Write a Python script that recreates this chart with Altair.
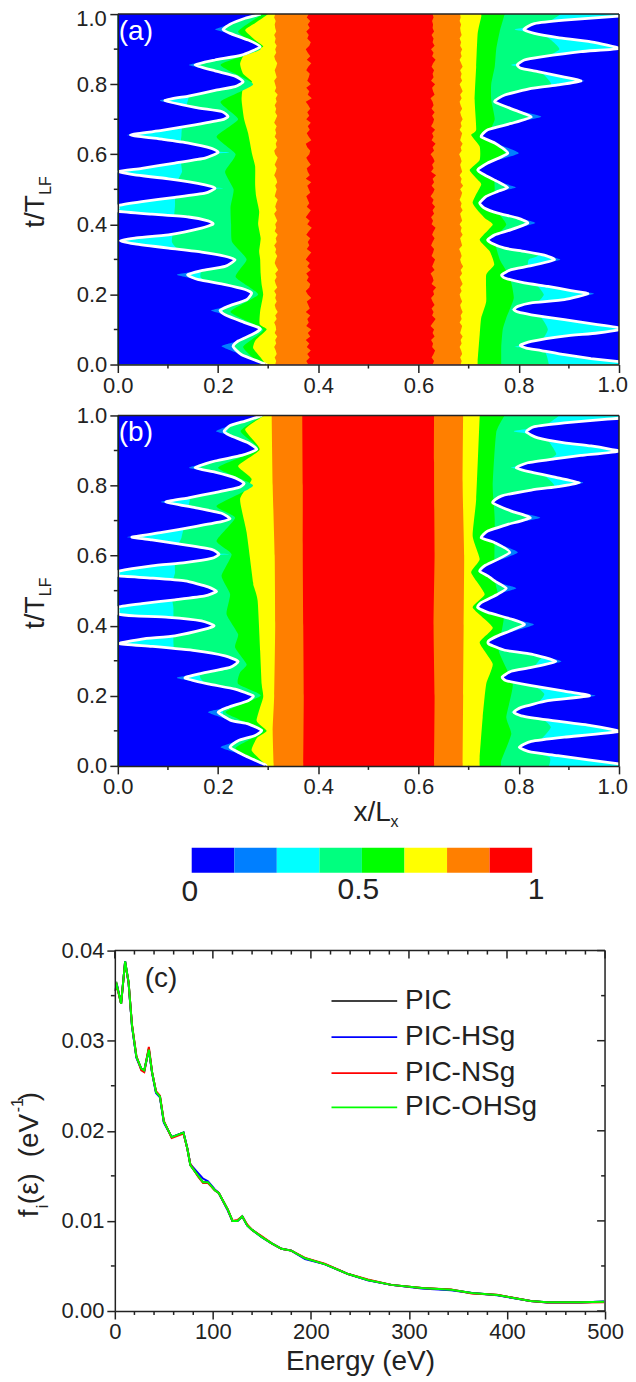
import altair as alt
import pandas as pd

FONT = "Liberation Sans"
BLUE, AZURE, CYAN, SPRING, GREEN, YELLOW, ORANGE, RED = "#0000ff", "#007fff", "#00ffff", "#00ff7f", "#00ff00", "#ffff00", "#ff7f00", "#ff0000"
BAR_COLORS = [BLUE, AZURE, CYAN, SPRING, GREEN, YELLOW, ORANGE, RED]
INK = "#222222"

# ---------- panel (a) contour boundaries: (t, x) ----------
A_L_WHITE = [(0,.296),(.002,.293),(.028,.247),(.052,.230),(.067,.240),(.085,.267),(.100,.284),(.106,.280),(.123,.247),(.142,.214),(.154,.204),(.166,.220),(.185,.257),(.204,.267),(.214,.254),(.228,.214),(.242,.161),(.256,.139),(.268,.167),(.280,.214),(.299,.234),(.309,.214),(.321,.167),(.332,.101),(.344,.034),(.353,.005),(.361,.034),(.370,.101),(.389,.167),(.401,.190),(.410,.180),(.421,.141),(.429,.068),(.437,.002),(.446,.001),(.454,.002),(.465,.048),(.477,.114),(.489,.174),(.503,.194),(.513,.174),(.530,.101),(.541,.034),(.551,.002),(.560,.048),(.575,.114),(.589,.174),(.605,.200),(.617,.187),(.632,.141),(.643,.088),(.655,.025),(.668,.088),(.684,.154),(.698,.207),(.708,.220),(.722,.207),(.734,.154),(.753,.094),(.766,.141),(.782,.194),(.793,.234),(.807,.250),(.823,.234),(.838,.194),(.855,.154),(.869,.194),(.883,.247),(.907,.284),(.926,.260),(.945,.224),(.956,.210),(.971,.224),(.988,.254),(.997,.277),(1,.285)]
A_L_TIPS = {.052:.207,.154:.186,.256:.118,.655:.018,.753:.084,.855:.142,.956:.194}
A_R_WHITE = [(0,1.05),(.008,1.0),(.017,.944),(.028,.891),(.040,.845),(.047,.815),(.055,.803),(.066,.825),(.081,.891),(.090,.957),(.102,1.01),(.114,.957),(.128,.891),(.142,.825),(.150,.798),(.157,.790),(.166,.798),(.176,.825),(.185,.891),(.202,.938),(.211,.904),(.223,.858),(.233,.811),(.247,.772),(.256,.766),(.271,.785),(.282,.825),(.299,.871),(.312,.851),(.323,.811),(.332,.772),(.347,.745),(.356,.738),(.370,.752),(.385,.785),(.404,.818),(.418,.798),(.432,.758),(.446,.732),(.461,.722),(.480,.735),(.494,.758),(.505,.778),(.522,.758),(.541,.732),(.555,.718),(.575,.738),(.603,.778),(.632,.752),(.650,.725),(.670,.738),(.688,.785),(.707,.825),(.726,.792),(.750,.752),(.769,.772),(.788,.825),(.798,.878),(.809,.924),(.820,.891),(.836,.838),(.845,.805),(.855,.797),(.869,.811),(.878,.845),(.893,.924),(.902,1.0),(.921,.944),(.933,.878),(.945,.831),(.956,.810),(.973,.831),(.983,.891),(.994,1.0),(1,1.05)]
A_R_TIPS = {.202:.950,.299:.883,.404:.833,.505:.795,.603:.800,.707:.845,.809:.932}
A_L_CS = [(0,.2),(.1,.2),(.15,.21),(.2,.2),(.25,.165),(.3,.17),(.33,.12),(.35,.108),(.38,.11),(.45,.114),(.495,.12),(.503,.21),(.512,.12),(.55,.128),(.595,.13),(.605,.224),(.615,.13),(.655,.127),(.7,.13),(.755,.14),(.8,.15),(.855,.165),(.9,.2),(.956,.215),(1,.225)]
A_L_SG = [(0,.285),(.05,.25),(.1,.29),(.15,.225),(.2,.28),(.25,.235),(.3,.257),(.35,.228),(.4,.226),(.45,.225),(.5,.231),(.55,.214),(.6,.235),(.65,.197),(.7,.24),(.75,.205),(.8,.27),(.855,.205),(.9,.285),(.95,.24),(1,.29)]
A_L_GY = [(0,.295),(.02,.285),(.047,.27),(.07,.275),(.1,.297),(.115,.283),(.152,.284),(.2,.29),(.228,.287),(.26,.285),(.3,.284),(.323,.282),(.36,.285),(.4,.28),(.437,.282),(.48,.276),(.513,.274),(.565,.274),(.6,.268),(.66,.26),(.7,.252),(.755,.247),(.79,.25),(.807,.268),(.83,.25),(.859,.244),(.89,.255),(.907,.29),(.925,.275),(.954,.254),(.975,.275),(1,.3)]
A_R_CS = [(0,.86),(.04,.85),(.051,.792),(.06,.84),(.1,.858),(.14,.84),(.157,.785),(.17,.83),(.2,.85),(.24,.825),(.256,.775),(.27,.815),(.3,.82),(.34,.85),(.75,.85),(.78,.84),(.8,.865),(.84,.84),(.855,.785),(.87,.84),(.9,.881),(.94,.85),(.956,.792),(.97,.85),(1,.884)]
A_R_SG = [(0,.765),(.05,.765),(.1,.768),(.133,.775),(.19,.79),(.25,.782),(.3,.762),(.36,.752),(.4,.775),(.45,.75),(.5,.752),(.55,.752),(.6,.775),(.65,.74),(.7,.752),(.755,.745),(.8,.745),(.85,.752),(.9,.755),(.95,.762),(1,.772)]
A_R_GY = [(0,.718),(.01,.718),(.085,.722),(.133,.725),(.18,.735),(.256,.735),(.285,.751),(.323,.742),(.356,.722),(.399,.748),(.418,.732),(.461,.708),(.513,.725),(.527,.718),(.555,.702),(.584,.722),(.622,.722),(.655,.705),(.67,.715),(.755,.712),(.85,.715),(.945,.718),(.992,.725),(1,.725)]
T_GRID = [i / 100 for i in range(101)]
A_L_RO = [.380,.376,.383,.378,.385,.377,.382,.375,.384,.379,.386,.376,.381,.378,.384,.375,.383,.380,.377,.386,.379,.375,.382,.384,.377,.381,.376,.385,.378,.383,.375,.380,.386,.377,.382,.379,.384,.376,.381,.387,.378,.383,.375,.380,.385,.377,.382,.379,.376,.384,.381,.378,.386,.375,.383,.379,.377,.385,.380,.376,.382,.384,.378,.375,.386,.381,.377,.383,.379,.385,.376,.382,.378,.384,.380,.375,.387,.379,.382,.376,.385,.378,.381,.383,.376,.380,.386,.377,.384,.379,.375,.382,.385,.378,.381,.376,.383,.379,.384,.377,.381]
A_L_OY = [.314,.316,.313,.317,.315,.312,.316,.314,.318,.313,.316,.315,.312,.317,.314,.319,.315,.313,.317,.314,.316,.312,.318,.315,.313,.317,.314,.320,.316,.313,.315,.318,.314,.316,.312,.317,.315,.319,.313,.316,.314,.318,.315,.312,.317,.314,.316,.319,.313,.315,.317,.314,.318,.316,.312,.315,.317,.313,.316,.319,.314,.312,.317,.315,.318,.313,.316,.314,.317,.312,.315,.318,.314,.316,.313,.317,.315,.319,.313,.316,.314,.312,.317,.315,.313,.316,.318,.314,.312,.316,.314,.317,.313,.315,.312,.316,.314,.313,.315,.312,.314]
A_R_RO = [.628,.631,.626,.630,.633,.627,.629,.625,.632,.628,.631,.624,.629,.634,.627,.630,.626,.632,.628,.625,.631,.629,.635,.626,.630,.628,.624,.632,.627,.630,.633,.626,.629,.631,.625,.628,.632,.627,.630,.634,.626,.629,.625,.631,.628,.633,.627,.630,.624,.629,.632,.626,.631,.628,.635,.625,.630,.627,.632,.629,.624,.631,.628,.634,.626,.630,.627,.633,.625,.629,.631,.627,.632,.626,.630,.628,.624,.632,.629,.627,.633,.625,.630,.628,.631,.626,.629,.634,.627,.630,.625,.632,.628,.630,.626,.631,.628,.629,.627,.630,.628]
A_R_OY = [.684,.686,.683,.687,.685,.682,.686,.684,.688,.683,.685,.687,.682,.686,.684,.688,.685,.683,.687,.684,.682,.686,.683,.688,.685,.682,.687,.684,.689,.685,.683,.686,.684,.681,.687,.685,.683,.688,.684,.686,.682,.687,.685,.683,.688,.684,.686,.682,.685,.687,.683,.689,.684,.686,.682,.687,.685,.683,.686,.684,.681,.686,.684,.688,.683,.685,.687,.682,.686,.684,.688,.685,.683,.687,.684,.682,.686,.683,.688,.685,.682,.687,.684,.686,.683,.688,.685,.682,.686,.684,.687,.683,.685,.682,.686,.684,.683,.685,.682,.684,.683]

# ---------- panel (b) contour boundaries: (t, x) ----------
B_L_WHITE = [(0,.296),(.004,.293),(.029,.254),(.053,.224),(.072,.240),(.086,.273),(.101,.287),(.120,.260),(.129,.227),(.153,.200),(.167,.220),(.186,.260),(.200,.270),(.219,.234),(.234,.180),(.251,.134),(.264,.167),(.281,.224),(.298,.240),(.314,.214),(.329,.154),(.341,.068),(.349,.003),(.362,.048),(.371,.114),(.390,.174),(.400,.192),(.414,.167),(.424,.101),(.428,.034),(.433,.002),(.444,.001),(.454,.002),(.463,.048),(.474,.114),(.485,.174),(.498,.197),(.511,.180),(.528,.134),(.536,.068),(.542,.002),(.549,.001),(.556,.002),(.571,.068),(.580,.134),(.592,.187),(.604,.202),(.618,.187),(.632,.127),(.645,.068),(.653,.028),(.666,.088),(.683,.154),(.697,.207),(.705,.224),(.721,.207),(.737,.154),(.753,.096),(.765,.141),(.780,.194),(.794,.240),(.806,.252),(.822,.234),(.838,.194),(.851,.154),(.870,.194),(.886,.247),(.903,.277),(.922,.260),(.943,.224),(.955,.212),(.971,.224),(.984,.254),(.996,.280),(1,.288)]
B_L_TIPS = {.053:.205,.153:.180,.251:.118,.653:.018,.753:.086,.851:.142,.955:.196}
B_R_WHITE = [(0,1.05),(.006,1.0),(.029,.878),(.039,.825),(.053,.801),(.070,.825),(.082,.891),(.098,1.0),(.115,.944),(.131,.858),(.143,.805),(.153,.790),(.167,.805),(.186,.858),(.200,.941),(.213,.891),(.229,.825),(.243,.775),(.254,.767),(.270,.785),(.281,.825),(.298,.874),(.319,.825),(.330,.772),(.348,.740),(.357,.740),(.371,.758),(.403,.811),(.419,.785),(.438,.738),(.452,.718),(.466,.725),(.490,.758),(.507,.775),(.525,.755),(.542,.738),(.556,.722),(.571,.732),(.609,.782),(.637,.752),(.651,.725),(.670,.738),(.689,.778),(.708,.823),(.727,.785),(.751,.748),(.770,.765),(.787,.825),(.797,.878),(.808,.921),(.822,.878),(.838,.825),(.851,.795),(.865,.818),(.876,.871),(.886,.924),(.898,1.0),(.913,.944),(.922,.891),(.936,.838),(.953,.815),(.968,.831),(.979,.891),(.989,.971),(.992,1.0),(1,1.05)]
B_R_TIPS = {.200:.953,.298:.885,.403:.830,.507:.795,.609:.798,.708:.843,.808:.930}
B_L_CS = [(0,.2),(.1,.2),(.15,.21),(.2,.2),(.25,.165),(.3,.16),(.33,.115),(.35,.111),(.4,.111),(.45,.111),(.495,.112),(.503,.205),(.512,.112),(.55,.114),(.595,.12),(.604,.222),(.613,.12),(.651,.127),(.7,.135),(.761,.144),(.8,.15),(.851,.165),(.9,.2),(.955,.218),(1,.225)]
B_L_SG = [(0,.285),(.05,.235),(.1,.29),(.153,.215),(.2,.285),(.234,.24),(.267,.244),(.29,.257),(.338,.234),(.376,.24),(.433,.217),(.49,.224),(.542,.207),(.604,.227),(.642,.197),(.708,.234),(.742,.197),(.8,.27),(.851,.2),(.903,.28),(.955,.245),(1,.29)]
B_L_GY = [(0,.293),(.006,.293),(.044,.267),(.08,.278),(.1,.297),(.129,.277),(.196,.29),(.234,.287),(.328,.284),(.471,.279),(.5185,.27),(.523,.27),(.666,.257),(.761,.244),(.818,.267),(.856,.24),(.903,.283),(.96,.254),(.998,.29),(1,.293)]
B_L_RO = [(0,.370),(.2,.371),(.4,.370),(.6,.369),(.8,.369),(1,.368)]
B_L_OY = [(0,.311),(.1,.309),(.2,.312),(.4,.314),(.6,.313),(.8,.309),(1,.307)]
B_R_CS = [(0,.86),(.025,.861),(.05,.8),(.07,.84),(.11,.864),(.14,.84),(.153,.785),(.17,.83),(.205,.851),(.24,.82),(.254,.775),(.27,.82),(.3,.84),(.34,.85),(.75,.85),(.78,.84),(.8,.871),(.84,.84),(.851,.785),(.87,.85),(.89,.875),(.94,.85),(.955,.79),(.97,.85),(1,.881)]
B_R_SG = [(0,.765),(.015,.765),(.091,.785),(.139,.775),(.234,.788),(.329,.76),(.424,.77),(.533,.752),(.704,.752),(.799,.748),(.951,.755),(1,.772)]
B_R_GY = [(0,.722),(.025,.722),(.139,.728),(.234,.735),(.291,.748),(.352,.722),(.395,.748),(.452,.708),(.49,.732),(.552,.705),(.59,.722),(.656,.708),(.761,.715),(.998,.722),(1,.722)]
B_R_RO = [(0,.631),(.2,.632),(.4,.630),(.6,.632),(.8,.631),(1,.631)]
B_R_OY = [(0,.688),(.2,.689),(.4,.690),(.6,.691),(.8,.688),(1,.689)]

# ---------- panel (c) ----------
ENERGY = [0,2,6.4,10.5,14,17.5,22,27,30,34.7,38,42,46,50,58,70,74,77,85,90,95,102,106,115,120,125,130,135,140,150,160,170,180,194,214,238,258,282,313,343,364,390,424,441,475,499]
F_PIC = [.0355,.0362,.0341,.0388,.0365,.0317,.0282,.0269,.0267,.0291,.0265,.0243,.0238,.0210,.0193,.0198,.0180,.0162,.0150,.0143,.0143,.0134,.0131,.0113,.0100,.0100,.0105,.0095,.0090,.0082,.0075,.0069,.0067,.00585,.0052,.0041,.00345,.0029,.00256,.00237,.0020,.00178,.0011,.00096,.00096,.00102]
F_HS = [.0355,.0363,.0341,.0388,.0364,.0316,.0281,.0268,.0266,.0290,.0264,.0242,.0237,.0209,.0193,.0198,.0180,.0163,.0153,.0147,.0144,.0135,.0131,.0112,.0100,.0100,.0105,.0095,.0090,.0082,.0075,.0069,.0067,.00575,.0052,.0041,.0034,.0029,.0025,.0023,.0020,.00175,.0011,.00095,.00095,.00105]
F_NS = [.0355,.0361,.0341,.0387,.0365,.0318,.0283,.0267,.0265,.0293,.0265,.0244,.0239,.0211,.0192,.0197,.0180,.0163,.0149,.0142,.0142,.0134,.0131,.0113,.0100,.0101,.0105,.0096,.0090,.0083,.0075,.0069,.0067,.0059,.00525,.0041,.0035,.0029,.00255,.0024,.00195,.0018,.0011,.00095,.00095,.00098]
F_OH = [.0355,.0362,.0341,.0388,.0365,.0317,.0282,.0269,.0267,.0290,.0265,.0243,.0238,.0210,.0193,.0198,.0180,.0162,.0150,.0143,.0143,.0134,.0131,.0113,.0100,.0100,.0105,.0095,.0090,.0082,.0075,.0069,.0067,.00585,.0052,.0041,.00345,.0029,.00256,.00237,.0020,.00178,.0011,.00096,.00096,.00102]
LEGEND_NAMES = ["PIC", "PIC-HSg", "PIC-NSg", "PIC-OHSg"]
LEGEND_F = [.0344, .0304, .0264, .0226]
LINE_COLORS = ["#000000", "#0000ff", "#ff0000", "#00ff00"]

MAJOR_01 = [0, .2, .4, .6, .8, 1]
MINOR_01 = [.1, .3, .5, .7, .9]
E_MAJOR = [0, 100, 200, 300, 400, 500]
E_MINOR = [20,40,60,80,120,140,160,180,220,240,260,280,320,340,360,380,420,440,460,480]
F_MAJOR = [0, .01, .02, .03, .04]
F_MINOR = [.005, .015, .025, .035]
BLANK_ONE = "datum.value == 1 ? '' : format(datum.value, '.1f')"

AX = dict(title=None, zindex=1, labelFont=FONT, labelFontSize=22, labelColor=INK, tickColor=INK,
          domainColor=INK, tickWidth=1.5, domainWidth=1.5, grid=False, labelPadding=3, tickSize=8,
          labelFlush=False, labelOverlap=False)


def txt(s, x, y, size, color=INK, angle=0, align="left"):
    return alt.Chart(pd.DataFrame({"s": [s]})).mark_text(
        font=FONT, fontSize=size, color=color, angle=angle, align=align, baseline="alphabetic"
    ).encode(text="s:N", x=alt.value(x), y=alt.value(y))


def hrule(rows, xs, ys, color=INK, width=1.5):
    return alt.Chart(pd.DataFrame(rows, columns=["a", "b", "y"])).mark_rule(color=color, strokeWidth=width).encode(
        x=alt.X("a:Q", scale=xs), x2="b:Q", y=alt.Y("y:Q", scale=ys))


def vrule(rows, xs, ys, color=INK, width=1.5):
    return alt.Chart(pd.DataFrame(rows, columns=["x", "c", "d"])).mark_rule(color=color, strokeWidth=width).encode(
        x=alt.X("x:Q", scale=xs), y=alt.Y("c:Q", scale=ys), y2="d:Q")


def panel(L, R, tipsL, tipsR, label, is_bottom):
    xs = alt.Scale(domain=[0, 1], range=[3, 505], nice=False)
    ys = alt.Scale(domain=[0, 1], nice=False)

    def area(pairs, color, left, rough):
        df = pd.DataFrame(pairs, columns=["t", "b"])
        df["e"] = 0.0 if left else 1.0
        style = dict(interpolate="linear") if rough else dict(interpolate="cardinal", tension=.5)
        return alt.Chart(df).mark_area(orient="horizontal", clip=True, color=color, opacity=1, **style).encode(
            x=alt.X("b:Q", scale=xs), x2="e:Q", y=alt.Y("t:Q", scale=ys))

    def white(pairs):
        df = pd.DataFrame(pairs, columns=["t", "b"])
        df["i"] = range(len(df))
        return alt.Chart(df).mark_line(clip=True, color="white", strokeWidth=2.8, orient="horizontal", interpolate="cardinal", tension=.5).encode(
            x=alt.X("b:Q", scale=xs), y=alt.Y("t:Q", scale=ys), order="i:Q")

    box = pd.DataFrame({"a": [0.0], "b": [1.0], "c": [0.0], "d": [1.0]})
    y_labels = {"format": ".1f"} if is_bottom else {"labelExpr": BLANK_ONE}
    base = alt.Chart(box).mark_rect(color=RED).encode(
        x=alt.X("a:Q", scale=xs, axis=alt.Axis(values=MAJOR_01, labelExpr=BLANK_ONE, **AX)), x2="b:Q",
        y=alt.Y("c:Q", scale=ys, axis=alt.Axis(values=MAJOR_01, offset=-3, **y_labels, **AX)), y2="d:Q")

    def blue(pairs, tips):
        return [(t, tips.get(t, x)) for t, x in pairs]

    layers = [base]
    for side, left, tips in ((L, True, tipsL), (R, False, tipsR)):
        for key, color in (("RO", ORANGE), ("OY", YELLOW), ("GY", GREEN), ("SG", SPRING), ("CS", CYAN)):
            layers.append(area(side[key], color, left, side.get("rough") and key in ("RO", "OY")))
        layers.append(area(side["W"], AZURE, left, False))
        layers.append(area(blue(side["W"], tips), BLUE, left, False))
        layers.append(white(side["W"]))
    layers.append(hrule([(0, 1, 1)], xs, ys))
    layers.append(vrule([(1, 0, 1)], xs, ys))
    layers.append(vrule([(v, 0, -4 / 351) for v in MINOR_01], xs, ys))
    layers.append(hrule([(0, -4 / 502, v) for v in MINOR_01], xs, ys))
    layers.append(txt(label, 4, 26, 28, "white"))
    layers.append(txt("t/T", -71, 214, 28, angle=270))
    layers.append(txt("LF", -64, 181, 16, angle=270))
    layers.append(txt("1.0", 514, 379, 22, align="right"))
    if is_bottom:
        layers.append(txt("x/L", 239, 406, 28))
        layers.append(txt("x", 276, 412, 16))
    else:
        layers.append(txt("1.0", -8, 12, 22, align="right"))
    return alt.layer(*layers).properties(width=505, height=351)


def zipT(vals):
    return list(zip(T_GRID, vals))


panel_a = panel(
    dict(RO=zipT(A_L_RO), OY=zipT(A_L_OY), GY=A_L_GY, SG=A_L_SG, CS=A_L_CS, W=A_L_WHITE, rough=True),
    dict(RO=zipT(A_R_RO), OY=zipT(A_R_OY), GY=A_R_GY, SG=A_R_SG, CS=A_R_CS, W=A_R_WHITE, rough=True),
    A_L_TIPS, A_R_TIPS, "(a)", False)
panel_b = panel(
    dict(RO=B_L_RO, OY=B_L_OY, GY=B_L_GY, SG=B_L_SG, CS=B_L_CS, W=B_L_WHITE),
    dict(RO=B_R_RO, OY=B_R_OY, GY=B_R_GY, SG=B_R_SG, CS=B_R_CS, W=B_R_WHITE),
    B_L_TIPS, B_R_TIPS, "(b)", True)

# ---------- colour bar ----------
bar_df = pd.DataFrame({"a": [i / 8 for i in range(8)], "b": [(i + 1) / 8 for i in range(8)], "c": [0.0] * 8, "d": [1.0] * 8, "col": BAR_COLORS})
bar = alt.layer(
    alt.Chart(bar_df).mark_rect().encode(
        x=alt.X("a:Q", scale=alt.Scale(domain=[0, 1], range=[77, 418]), axis=None), x2="b:Q",
        y=alt.Y("c:Q", scale=alt.Scale(domain=[0, 1], range=[56, 31]), axis=None), y2="d:Q",
        color=alt.Color("col:N", scale=None)),
    txt("0", 75, 84, 30, align="center"),
    txt("0.5", 244, 82, 30, align="center"),
    txt("1", 422, 82, 30, align="center"),
).properties(width=491, height=83)

# ---------- panel (c) ----------
xe = alt.Scale(domain=[0, 500], nice=False)
yf = alt.Scale(domain=[0, .04], nice=False)
box = pd.DataFrame({"a": [0.0], "b": [500.0], "c": [0.0], "d": [.04]})
c_base = alt.Chart(box).mark_rect(opacity=0).encode(
    x=alt.X("a:Q", scale=xe, axis=alt.Axis(values=E_MAJOR, format="d", **AX)), x2="b:Q",
    y=alt.Y("c:Q", scale=yf, axis=alt.Axis(values=F_MAJOR, format=".2f", **AX)), y2="d:Q")

c_layers = [c_base, hrule([(0, 500, .04)], xe, yf), vrule([(500, 0, .04)], xe, yf)]
c_layers.append(vrule([(e, .04, .04 - .00089) for e in E_MAJOR] + [(e, .04, .04 - .00044) for e in E_MINOR], xe, yf))
c_layers.append(hrule([(500, 500 - 8.1, f) for f in F_MAJOR] + [(500, 500 - 4, f) for f in F_MINOR], xe, yf))
c_layers.append(vrule([(e, 0, -.00044) for e in E_MINOR], xe, yf))
c_layers.append(hrule([(0, -4, f) for f in F_MINOR], xe, yf))
for vals, col in zip((F_PIC, F_HS, F_NS, F_OH), LINE_COLORS):
    df = pd.DataFrame({"e": ENERGY, "f": vals})
    c_layers.append(alt.Chart(df).mark_line(color=col, strokeWidth=2, clip=True).encode(
        x=alt.X("e:Q", scale=xe), y=alt.Y("f:Q", scale=yf)))
for f, col, name in zip(LEGEND_F, LINE_COLORS, LEGEND_NAMES):
    c_layers.append(hrule([(221, 288, f)], xe, yf, color=col, width=1.6))
    c_layers.append(alt.Chart(pd.DataFrame({"a": [296], "y": [f], "s": [name]})).mark_text(
        font=FONT, fontSize=28, color=INK, align="left", baseline="middle").encode(
        x=alt.X("a:Q", scale=xe), y=alt.Y("y:Q", scale=yf), text="s:N"))
c_layers.append(txt("(c)", 30, 36, 28))
c_layers.append(txt("Energy (eV)", 246, 420, 28, align="center"))
c_layers.append(txt("f", -77, 267, 28, angle=270))
c_layers.append(txt("i", -67, 258, 16, angle=270))
c_layers.append(txt("(\u03b5)", -77, 254, 28, angle=270))
c_layers.append(txt("(eV", -77, 207, 28, angle=270))
c_layers.append(txt("-1", -92, 162, 16, angle=270))
c_layers.append(txt(")", -77, 151, 28, angle=270))
panel_c = alt.layer(*c_layers).properties(width=491, height=361)

chart = alt.vconcat(panel_a, panel_b, bar, panel_c, spacing=51, bounds="flush").properties(
    padding={"left": 2, "top": -6, "right": 0, "bottom": 0}
).configure_view(stroke=None)

chart.save("out.html", embed_options={"renderer": "svg", "actions": False})
